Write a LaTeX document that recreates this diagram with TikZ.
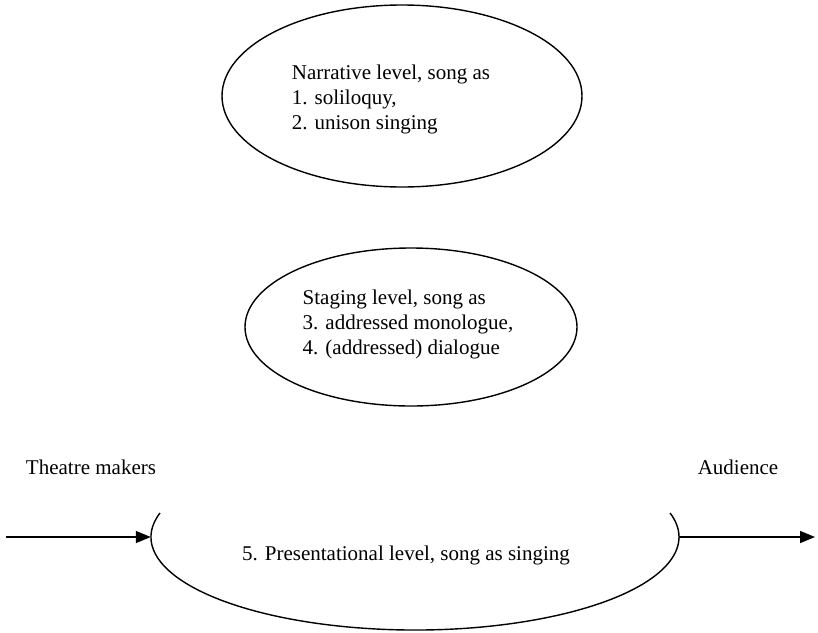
\documentclass[tikz,border=0pt]{standalone}
\usepackage{fontspec}
\setmainfont{Liberation Serif}
\usetikzlibrary{shapes.geometric,arrows.meta}
\begin{document}
\begin{tikzpicture}[x=1pt,y=-1pt,
  lvl/.style={draw=black,line width=1.4pt,ellipse,inner sep=0pt},
  lbl/.style={font=\fontsize{21}{25}\selectfont,align=left,inner sep=0pt},
  conn/.style={line width=1.4pt,-{Triangle[length=15pt,width=12pt]}}]
\useasboundingbox (0,0) rectangle (818,632);
\node[lvl,minimum width=360pt,minimum height=182pt] (nar) at (402,96) {};
\node[lbl] (nartxt) at (391,99) {Narrative level, song as\\1. soliloquy,\\2. unison singing};
\node[lvl,minimum width=332pt,minimum height=158pt] (stg) at (411,327) {};
\node[lbl] (stgtxt) at (408,324) {Staging level, song as\\3. addressed monologue,\\4. (addressed) dialogue};
\node[lbl] (tm) at (91,467) {Theatre makers};
\node[lbl] (aud) at (738,467) {Audience};
\node[ellipse,draw=none,minimum width=528pt,minimum height=186pt,inner sep=0pt] (pres) at (415,537) {};
\draw[line width=1.4pt] ([shift={(165:264pt and 93pt)}]pres.center) arc[start angle=165,end angle=375,x radius=264pt,y radius=93pt];
\node[lbl] (prestxt) at (406,555) {5. Presentational level, song as singing};
\coordinate (lstart) at (6,537);
\coordinate (rend) at (815,537);
\draw[conn] (lstart) -- (pres.west);
\draw[conn] (pres.east) -- (rend);
\end{tikzpicture}
\end{document}
